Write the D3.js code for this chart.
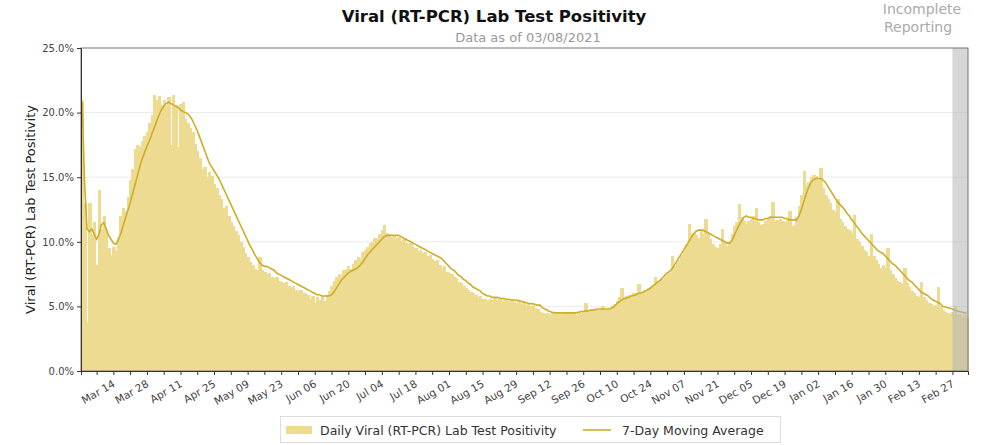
<!DOCTYPE html>
<html><head><meta charset="utf-8">
<script src="https://cdn.jsdelivr.net/npm/d3@7"></script>
<style>body{margin:0;background:#fff;} svg{display:block;font-family:"DejaVu Sans",sans-serif;}</style>
</head><body><svg id="c" width="983" height="445"></svg>
<script>
// ---- data ----
const startDate = "2020-03-01";           // first day of the series
const incompleteStart = "2021-02-27";      // start of the "Incomplete Reporting" band
const dailyPositivity = [
21.0,13.0,3.8,13.0,10.5,11.5,8.2,14.0,11.0,12.0,
10.8,9.5,9.0,9.6,9.3,10.4,12.0,12.6,12.4,13.5,
14.8,15.6,17.2,17.5,17.3,17.8,18.2,18.5,19.2,19.8,
21.4,21.0,21.3,20.6,21.0,20.5,21.2,17.5,21.4,20.6,
17.3,20.7,20.8,19.5,19.2,18.8,18.5,17.6,17.0,16.5,
15.6,15.8,15.0,15.4,15.1,14.5,14.2,13.6,13.3,12.6,
12.8,12.0,11.5,11.2,10.8,10.5,10.0,9.6,9.1,8.8,
8.4,8.2,7.9,7.8,8.8,7.8,7.7,7.5,7.6,7.3,
7.2,7.3,7.0,6.9,6.8,6.9,6.6,6.5,6.6,6.3,
6.2,6.3,6.0,6.0,5.9,5.6,5.8,5.3,5.7,5.5,
5.8,5.4,5.9,6.2,6.6,7.0,7.3,7.5,7.4,7.8,
7.9,8.1,7.9,8.3,8.6,8.8,8.7,9.2,9.4,9.6,
9.9,10.0,10.3,10.2,10.6,10.9,11.3,10.7,10.6,10.4,
10.5,10.3,10.4,10.1,10.2,9.9,9.8,9.9,9.6,9.5,
9.3,9.4,9.1,9.2,8.9,9.0,8.7,8.5,8.6,8.2,
8.0,8.1,7.7,7.6,7.5,7.3,7.2,6.9,6.8,6.6,
6.4,6.3,6.1,6.0,5.9,5.7,5.8,5.6,5.6,5.5,
5.6,5.5,5.7,5.5,5.6,5.4,5.5,5.5,5.4,5.5,
5.4,5.3,5.4,5.2,5.3,5.1,5.2,5.0,5.1,4.9,
4.8,4.6,4.5,4.4,4.5,4.4,4.5,4.4,4.6,4.5,
4.4,4.5,4.6,4.4,4.5,4.6,4.3,4.6,4.5,4.6,
5.3,4.6,4.8,4.7,4.7,4.7,4.8,5.0,4.7,4.8,
4.9,5.0,5.2,5.4,5.7,6.4,5.7,5.8,5.9,5.8,
6.0,6.0,6.7,6.1,6.2,6.3,6.4,6.5,6.6,7.3,
6.9,7.0,7.1,7.3,7.5,7.6,8.9,8.1,8.4,8.6,
9.0,9.3,9.8,11.4,10.6,10.7,10.5,10.3,10.8,10.6,
11.8,10.6,10.2,9.8,9.6,9.5,9.8,11.0,10.0,9.7,
10.0,10.6,11.2,11.5,12.9,11.9,11.6,11.4,11.6,11.8,
12.0,12.6,11.5,11.3,11.4,11.6,11.8,12.0,13.1,11.6,
11.7,11.8,11.6,11.5,11.7,12.4,11.2,11.3,11.9,12.8,
13.6,15.5,14.3,14.6,15.0,15.2,15.1,14.8,15.7,14.2,
13.6,13.3,13.0,12.5,12.3,13.3,11.8,11.5,11.2,11.0,
10.9,10.6,12.1,10.2,10.0,9.7,9.4,9.2,8.9,10.6,
8.9,8.6,8.3,8.0,8.2,8.0,9.5,7.8,7.5,7.2,
7.0,6.9,6.7,8.0,6.8,6.5,6.2,6.0,5.8,5.7,
6.9,5.7,5.5,5.3,5.2,5.0,5.1,6.5,5.0,4.7,
4.6,4.5,4.4,4.6,5.0,4.3,4.4,4.2,4.3,4.1
];
const movingAverage = [
20.8,14.5,11.0,10.8,11.0,10.6,10.2,10.6,11.3,11.5,
11.0,10.5,10.2,9.9,9.8,10.1,10.6,11.2,11.8,12.4,
13.0,13.7,14.4,15.1,15.8,16.4,16.9,17.4,17.8,18.3,
18.8,19.3,19.8,20.2,20.5,20.7,20.8,20.7,20.6,20.5,
20.4,20.2,20.1,20.0,19.9,19.7,19.4,19.0,18.6,18.1,
17.6,17.1,16.6,16.1,15.8,15.5,15.2,14.9,14.5,14.1,
13.7,13.3,12.9,12.5,12.1,11.7,11.3,10.9,10.5,10.1,
9.7,9.4,9.0,8.7,8.4,8.2,8.1,8.1,8.0,7.9,
7.8,7.6,7.5,7.4,7.3,7.2,7.1,7.0,6.9,6.8,
6.7,6.6,6.5,6.4,6.3,6.2,6.1,6.0,5.9,5.9,
5.8,5.8,5.8,5.8,5.9,6.1,6.4,6.7,7.0,7.2,
7.4,7.6,7.7,7.8,7.9,8.0,8.2,8.4,8.7,9.0,
9.2,9.4,9.6,9.8,10.0,10.2,10.4,10.5,10.5,10.5,
10.5,10.5,10.5,10.4,10.3,10.2,10.1,10.0,9.9,9.8,
9.7,9.6,9.5,9.4,9.3,9.2,9.1,9.0,8.9,8.8,
8.7,8.5,8.3,8.1,7.9,7.8,7.6,7.4,7.3,7.1,
7.0,6.8,6.7,6.5,6.4,6.3,6.2,6.0,5.9,5.8,
5.8,5.7,5.7,5.7,5.65,5.6,5.6,5.55,5.55,5.5,
5.5,5.5,5.45,5.4,5.35,5.3,5.25,5.2,5.2,5.15,
5.1,5.1,4.9,4.8,4.7,4.6,4.55,4.5,4.5,4.5,
4.5,4.5,4.5,4.5,4.5,4.5,4.5,4.55,4.6,4.6,
4.65,4.65,4.7,4.7,4.75,4.8,4.8,4.8,4.8,4.8,
4.8,4.9,5.0,5.2,5.35,5.5,5.6,5.65,5.7,5.8,
5.85,5.9,6.0,6.05,6.1,6.2,6.3,6.4,6.6,6.7,
6.9,7.0,7.2,7.4,7.6,7.7,7.9,8.2,8.5,8.8,
9.1,9.4,9.7,10.0,10.3,10.6,10.8,10.9,10.9,10.9,
10.8,10.7,10.6,10.5,10.4,10.3,10.2,10.1,10.0,9.9,
9.9,10.1,10.5,10.9,11.3,11.6,11.9,12.0,11.9,11.9,
11.8,11.8,11.7,11.7,11.7,11.8,11.8,11.9,11.9,11.9,
11.9,11.9,11.9,11.8,11.8,11.7,11.7,11.7,11.7,12.0,
12.5,13.1,13.7,14.2,14.6,14.8,14.9,14.9,14.9,14.8,
14.6,14.3,14.0,13.7,13.4,13.1,12.9,12.7,12.5,12.2,
12.0,11.7,11.5,11.2,11.0,10.7,10.5,10.3,10.1,9.9,
9.7,9.5,9.3,9.2,9.1,8.9,8.7,8.5,8.3,8.2,
8.0,7.8,7.6,7.4,7.2,7.0,6.9,6.7,6.5,6.3,
6.1,6.0,5.9,5.8,5.6,5.5,5.4,5.3,5.2,5.0,
4.95,4.9,4.85,4.8,4.7,4.65,4.6,4.55,4.5,4.45
];
const yTicks = [0, 5, 10, 15, 20, 25];
const xTickLabels = ["2020-03-14","2020-03-28","2020-04-11","2020-04-25","2020-05-09","2020-05-23",
  "2020-06-06","2020-06-20","2020-07-04","2020-07-18","2020-08-01","2020-08-15","2020-08-29",
  "2020-09-12","2020-09-26","2020-10-10","2020-10-24","2020-11-07","2020-11-21","2020-12-05",
  "2020-12-19","2021-01-02","2021-01-16","2021-01-30","2021-02-13","2021-02-27"];
const titleText = "Viral (RT-PCR) Lab Test Positivity";
const subtitleText = "Data as of 03/08/2021";
const yLabel = "Viral (RT-PCR) Lab Test Positivity";
const legendLabels = ["Daily Viral (RT-PCR) Lab Test Positivity", "7-Day Moving Average"];

// ---- chart ----
const W = 983, H = 445;
const m = {l: 81, r: 15, t: 48, b: 74};
const iw = W - m.l - m.r, ih = H - m.t - m.b;
const barColor = "#eddb92", lineColor = "#cdae26";
const parse = d3.utcParse("%Y-%m-%d");
const day = 864e5;
const t0 = parse(startDate);
const dates = dailyPositivity.map((_, i) => d3.utcDay.offset(t0, i));
const tEnd = dates[dates.length - 1];

const svg = d3.select("#c");
const g = svg.append("g").attr("transform", `translate(${m.l},${m.t})`);
const x = d3.scaleUtc().domain([new Date(+t0 - day/2), new Date(+tEnd + day/2)]).range([0, iw]);
const y = d3.scaleLinear().domain([0, 25]).range([ih, 0]);

// gridlines
g.append("g").selectAll("line").data(yTicks.filter(v => v > 0 && v < 25)).join("line")
  .attr("x1", 0).attr("x2", iw).attr("y1", d => y(d)).attr("y2", d => y(d))
  .attr("stroke", "#ececec").attr("stroke-width", 1);

// bars
g.append("g").attr("shape-rendering", "crispEdges").selectAll("rect").data(dailyPositivity).join("rect")
  .attr("x", (d, i) => x(new Date(+dates[i] - day/2)))
  .attr("width", (d, i) => x(new Date(+dates[i] + day/2)) - x(new Date(+dates[i] - day/2)) + 1)
  .attr("y", d => y(d)).attr("height", d => ih - y(d))
  .attr("fill", barColor);

// moving average line
g.append("path").datum(movingAverage)
  .attr("fill", "none").attr("stroke", lineColor).attr("stroke-width", 1.6)
  .attr("d", d3.line().x((d, i) => x(dates[i])).y(d => y(d)));

// incomplete band
const bandX = x(parse(incompleteStart));
g.append("rect").attr("x", bandX).attr("y", 0).attr("width", iw - bandX).attr("height", ih)
  .attr("fill", "#b4b4b4").attr("opacity", 0.55);

// frame
g.append("rect").attr("x", 0).attr("y", 0).attr("width", iw).attr("height", ih)
  .attr("fill", "none").attr("stroke", "#777").attr("stroke-width", 1);

// y axis
const ya = g.append("g").call(d3.axisLeft(y).tickValues(yTicks).tickFormat(d => d3.format(".1f")(d) + "%").tickSize(4));
ya.select(".domain").attr("stroke", "#333");
ya.selectAll("text").attr("font-size", 10).attr("fill", "#444").attr("font-family", "DejaVu Sans");
ya.selectAll(".tick line").attr("stroke", "#333");

// x axis weekly ticks
const weekly = d3.utcSaturday.range(t0, new Date(+tEnd + day));
const labelSet = new Set(xTickLabels);
const fmtKey = d3.utcFormat("%Y-%m-%d");
const xa = g.append("g").attr("transform", `translate(0,${ih})`)
  .call(d3.axisBottom(x).tickValues(weekly).tickFormat(d => labelSet.has(fmtKey(d)) ? d3.utcFormat("%b %d")(d) : "").tickSize(4));
xa.select(".domain").attr("stroke", "#333");
xa.selectAll(".tick line").attr("stroke", "#333");
xa.selectAll("text").attr("font-size", 10.5).attr("fill", "#444").attr("font-family", "DejaVu Sans")
  .attr("text-anchor", "end").attr("dy", null).attr("y", 0)
  .attr("transform", "translate(2,15) rotate(-30)");

// title etc
svg.append("text").attr("x", 494).attr("y", 22).attr("text-anchor", "middle")
  .attr("font-size", 16.5).attr("font-weight", "bold").attr("fill", "#111").text(titleText);
svg.append("text").attr("x", 528).attr("y", 42).attr("text-anchor", "middle")
  .attr("font-size", 13).attr("fill", "#999").text(subtitleText);
svg.append("text").attr("x", 922).attr("y", 14).attr("text-anchor", "middle")
  .attr("font-size", 14).attr("fill", "#aaa").text("Incomplete");
svg.append("text").attr("x", 918).attr("y", 32).attr("text-anchor", "middle")
  .attr("font-size", 14).attr("fill", "#aaa").text("Reporting");
svg.append("text").attr("transform", `translate(35,${m.t + ih/2}) rotate(-90)`)
  .attr("text-anchor", "middle").attr("font-size", 13).attr("fill", "#222").text(yLabel);

// legend
const lg = svg.append("g");
lg.append("rect").attr("x", 280.5).attr("y", 416.5).attr("width", 500).attr("height", 26)
  .attr("fill", "#fff").attr("stroke", "#ddd");
lg.append("rect").attr("x", 286).attr("y", 426).attr("width", 26).attr("height", 8).attr("fill", barColor);
lg.append("text").attr("x", 320).attr("y", 434.5).attr("font-size", 12.5).attr("fill", "#333").text(legendLabels[0]);
lg.append("line").attr("x1", 583).attr("x2", 611).attr("y1", 430).attr("y2", 430)
  .attr("stroke", lineColor).attr("stroke-width", 1.6);
lg.append("text").attr("x", 622).attr("y", 434.5).attr("font-size", 12.5).attr("fill", "#333").text(legendLabels[1]);
</script></body></html>
